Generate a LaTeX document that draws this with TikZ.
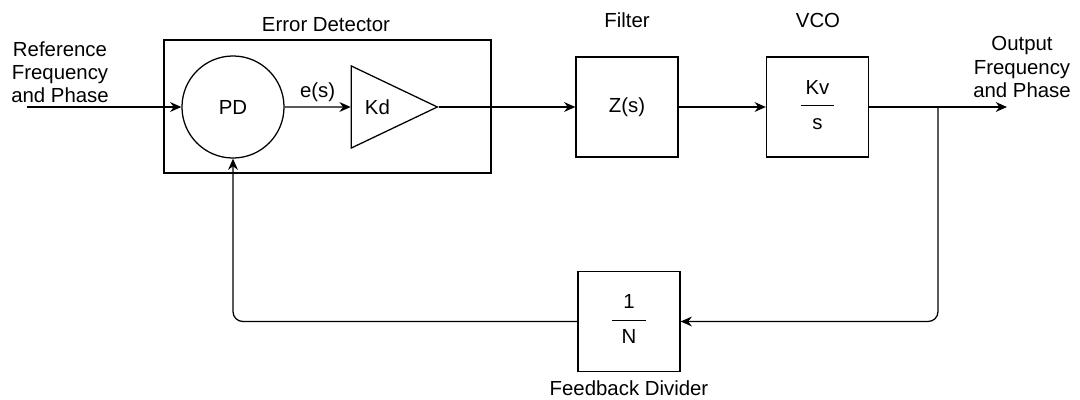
\documentclass[tikz,border=0pt]{standalone}
\usepackage{fontspec}
\setmainfont{Liberation Sans}
\usetikzlibrary{positioning,arrows.meta,shapes.geometric}
\tikzset{
  flowarrow/.style={-{Stealth[length=8pt,width=7pt]}, line width=0.9pt},
  blockbox/.style={draw, line width=0.9pt, minimum width=2.55cm, minimum height=2.5cm, align=center},
  pdcircle/.style={draw, circle, line width=0.9pt, minimum size=2.55cm},
  ampbox/.style={draw, isosceles triangle, isosceles triangle stretches, line width=0.9pt, minimum width=2.05cm, minimum height=2.15cm, inner sep=0pt},
  groupbox/.style={draw, line width=0.9pt, minimum width=8.175cm, minimum height=3.325cm},
  lbl/.style={inner sep=0pt, align=center}
}
\newcommand{\blockfrac}[2]{\begin{tabular}{@{}c@{}}#1\\[-8pt]\rule{24pt}{0.7pt}\\#2\end{tabular}}

\begin{document}
\begin{tikzpicture}[x=0.025cm, y=-0.025cm, every node/.style={font=\fontsize{14.5}{16.5}\selectfont}]
  \useasboundingbox (0,0) rectangle (1080,400);
  % error detector
  \node[groupbox] (det) at (327.5,106.5) {};
  \node[lbl] (detlbl) at (326,25) {Error Detector};
  \node[pdcircle] (pd) at (233,107) {PD};
  \node[ampbox, anchor=apex] (kd) at (439,107) {Kd};
  % forward path
  \node[blockbox] (filt) at (627,107) {Z(s)};
  \node[lbl] (filtlbl) at (627,20) {Filter};
  \node[blockbox] (vco) at (817.5,107) {\blockfrac{Kv}{s}};
  \node[lbl] (vcolbl) at (818,20) {VCO};
  % feedback
  \node[blockbox] (div) at (629,321.5) {\blockfrac{1}{N}};
  \node[lbl] (divlbl) at (629,388) {Feedback Divider};
  % ports
  \coordinate (in) at (27,107);
  \coordinate (tap) at (938,107);
  \coordinate (out) at (1007,107);
  \node[lbl] (reflbl) at (60,72) {Reference\\Frequency\\and Phase};
  \node[lbl] (outlbl) at (1022,67) {Output\\Frequency\\and Phase};
  \draw[flowarrow] (in) -- (pd);
  \draw[flowarrow] (pd) -- node[lbl, above=3pt] (eslbl) {e(s)} (kd);
  \draw[flowarrow] (kd.apex) -- (filt);
  \draw[flowarrow] (filt) -- (vco);
  \draw[flowarrow] (vco) -- (out);
  \draw[flowarrow, rounded corners=7pt] (tap) |- (div);
  \draw[flowarrow, rounded corners=7pt] (div) -| (pd);
\end{tikzpicture}
\end{document}
